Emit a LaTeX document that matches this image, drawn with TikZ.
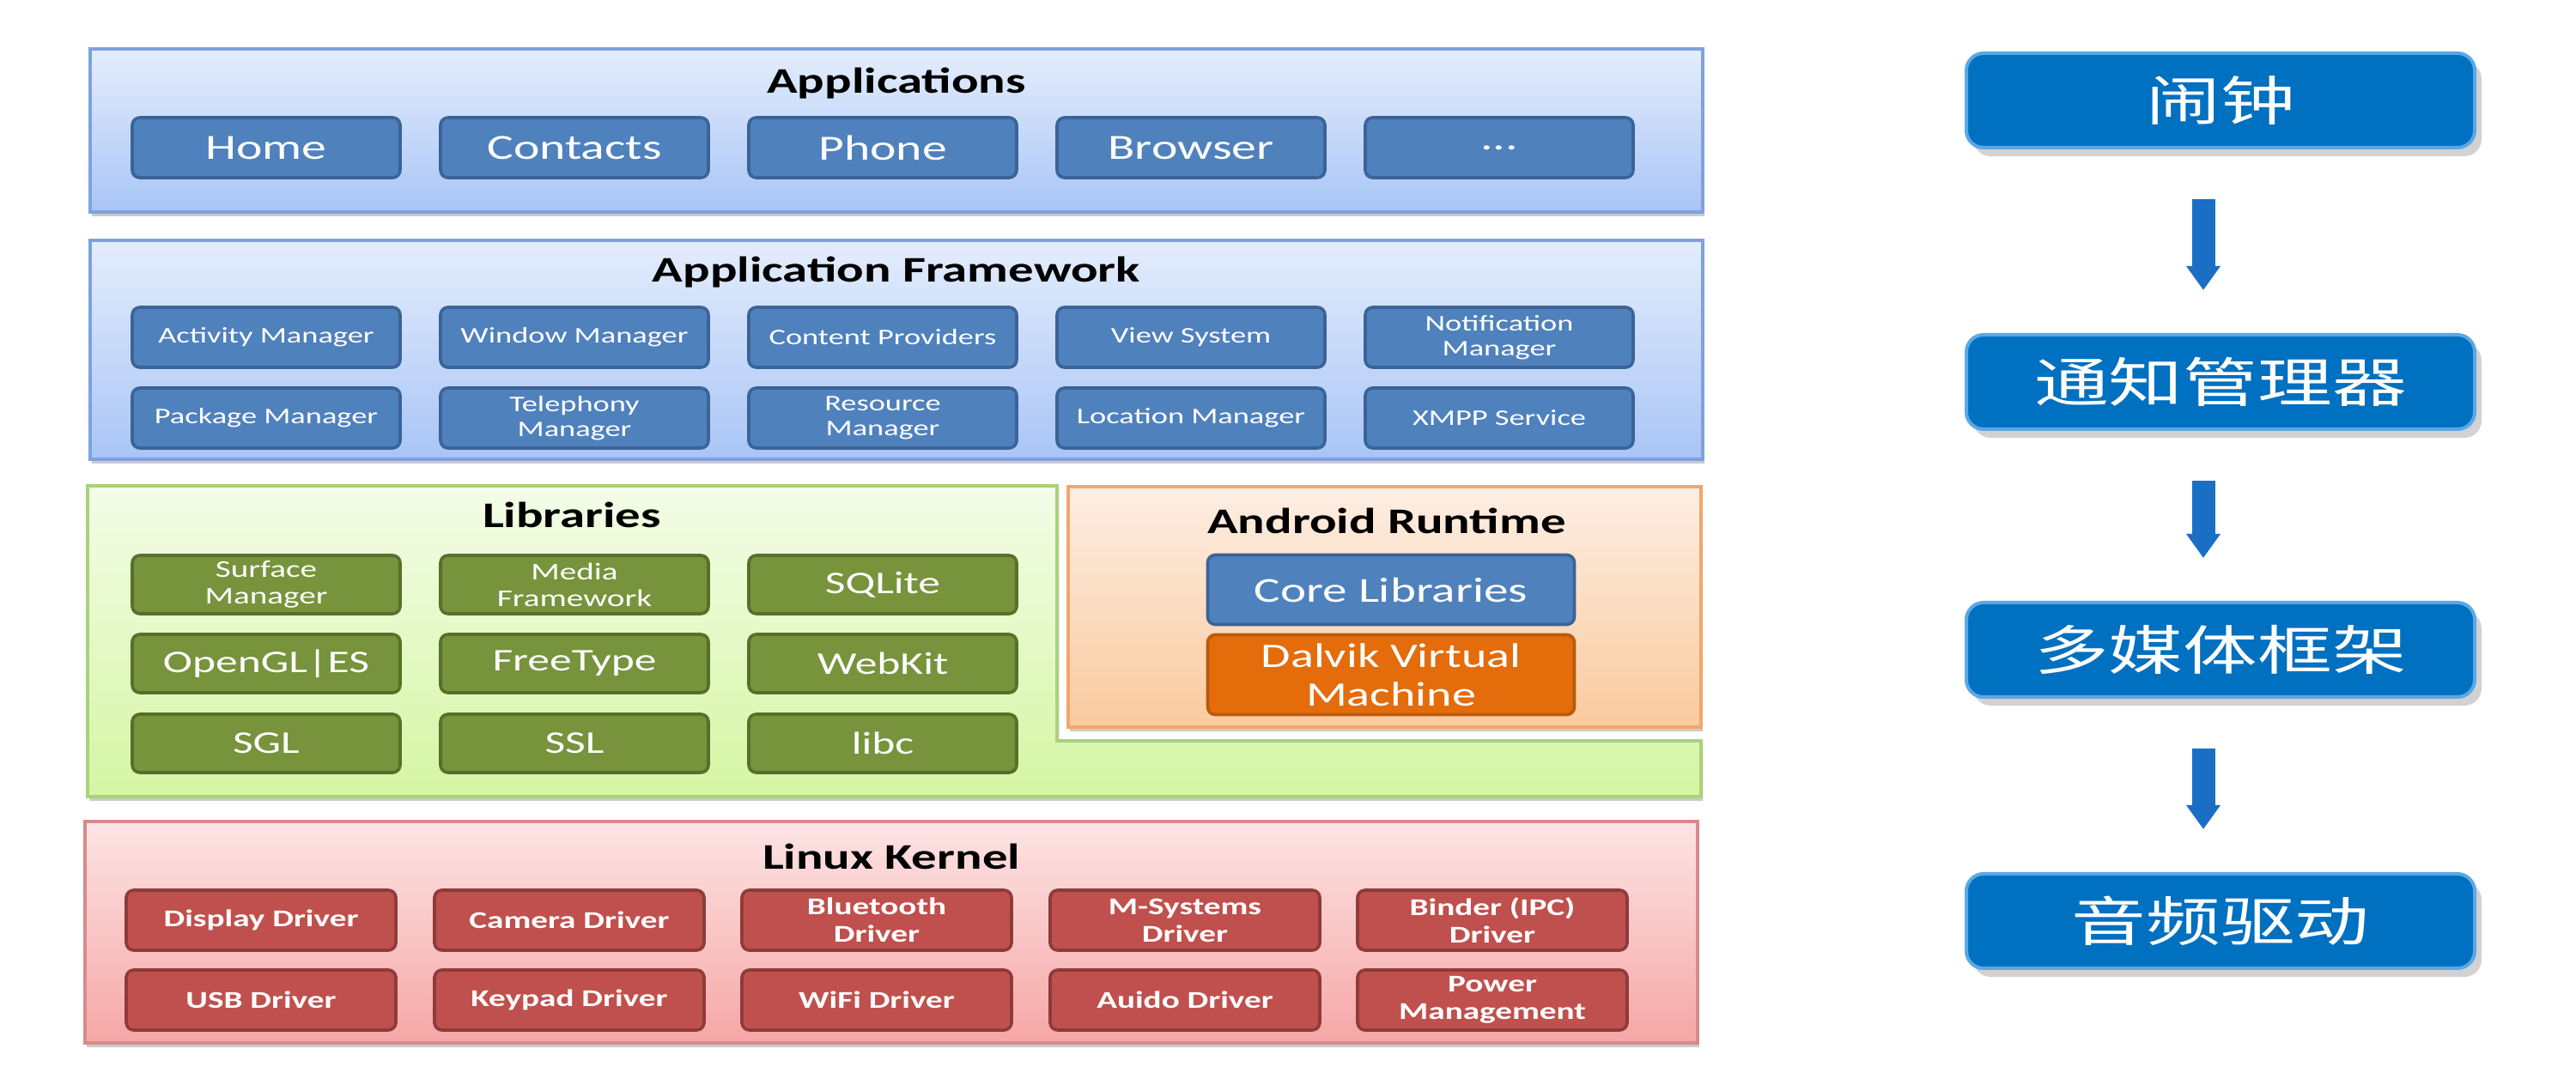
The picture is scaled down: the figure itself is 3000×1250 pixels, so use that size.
\documentclass[tikz,border=0pt]{standalone}
\usepackage{fontspec}
\setmainfont{Carlito}[FakeStretch=1.4]
\newfontfamily\cjk{Noto Sans CJK SC}[FakeStretch=1.4]
\usetikzlibrary{shadows,arrows.meta}
\definecolor{appTop}{HTML}{E4EDFC}
\definecolor{appBot}{HTML}{A9C5F6}
\definecolor{appBd}{HTML}{7EA2DC}
\definecolor{libTop}{HTML}{F3FDE8}
\definecolor{libBot}{HTML}{D5F5A3}
\definecolor{libBd}{HTML}{A9D27A}
\definecolor{rtTop}{HTML}{FDEEE3}
\definecolor{rtBot}{HTML}{FACA9E}
\definecolor{rtBd}{HTML}{F2A66A}
\definecolor{lkTop}{HTML}{FDE4E4}
\definecolor{lkBot}{HTML}{F6A6A6}
\definecolor{lkBd}{HTML}{D88A8A}
\definecolor{blueFill}{HTML}{4F81BD}
\definecolor{blueDraw}{HTML}{3B6397}
\definecolor{greenFill}{HTML}{77933C}
\definecolor{greenDraw}{HTML}{56702A}
\definecolor{orangeFill}{HTML}{E46C0A}
\definecolor{orangeDraw}{HTML}{B75A0C}
\definecolor{redFill}{HTML}{C0504D}
\definecolor{redDraw}{HTML}{8E3B39}
\definecolor{cnBlue}{HTML}{0070C0}
\definecolor{cnBd}{HTML}{5AA8E6}
\definecolor{cnArrow}{HTML}{1A6FC4}
\begin{document}
\begin{tikzpicture}[x=0.25pt,y=-0.25pt,
  layer/.style={draw=#1Bd, line width=0.8pt, top color=#1Top, bottom color=#1Bot,
    drop shadow={shadow xshift=0.6pt, shadow yshift=-1.2pt, opacity=0.35, fill=black!60}},
  title/.style={font=\bfseries\fontsize{10.5}{12}\selectfont, text=black, inner sep=0pt},
  item/.style={rounded corners=2.2pt, line width=0.9pt, minimum width=78pt, minimum height=17.5pt,
    inner sep=0pt, align=center, text=white},
  bluebox/.style={item, fill=blueFill, draw=blueDraw},
  greenbox/.style={item, fill=greenFill, draw=greenDraw, minimum height=17pt},
  redbox/.style={item, fill=redFill, draw=redDraw, minimum width=78.5pt,
    font=\bfseries\fontsize{7}{8}\selectfont},
  appf/.style={font=\fontsize{10.3}{12}\selectfont},
  fwf/.style={font=\fontsize{6.5}{7.3}\selectfont},
  libf/.style={font=\fontsize{9.2}{11}\selectfont},
  lib2f/.style={font=\fontsize{7}{7.8}\selectfont},
  cnbox/.style={rounded corners=5pt, fill=cnBlue, draw=cnBd, line width=1pt,
    minimum width=148pt, minimum height=27.5pt, inner sep=0pt, text=white,
    font=\cjk\fontsize{15.5}{18}\selectfont,
    drop shadow={shadow xshift=2pt, shadow yshift=-2.5pt, opacity=0.25, fill=black!70}},
  flow/.style={draw=cnArrow, line width=6.75pt, -{Triangle[length=7pt,width=9.5pt]},
    shorten <=14.5pt, shorten >=12.5pt}
]
\useasboundingbox (0,0) rectangle (3000,1250);

% ---------- Applications ----------
\path[layer=app] (105,57) rectangle (1983,247);
\node[title] (tapp) at (1044,97) {Applications};
\node[bluebox,appf] (home) at (310,172) {Home};
\node[bluebox,appf] (contacts) at (669,172) {Contacts};
\node[bluebox,appf] (phone) at (1028,172) {Phone};
\node[bluebox,appf] (browser) at (1387,172) {Browser};
\node[bluebox,appf] (more) at (1746,172) {...};

% ---------- Application Framework ----------
\path[layer=app] (105,280) rectangle (1983,535);
\node[title] (tfw) at (1044,317) {Application Framework};
\node[bluebox,fwf] (am) at (310,393) {Activity Manager};
\node[bluebox,fwf] (wm) at (669,393) {Window Manager};
\node[bluebox,fwf] (cp) at (1028,393) {Content Providers};
\node[bluebox,fwf] (vs) at (1387,393) {View System};
\node[bluebox,fwf] (nm) at (1746,393) {Notification\\Manager};
\node[bluebox,fwf] (pm) at (310,487) {Package Manager};
\node[bluebox,fwf] (tm) at (669,487) {Telephony\\Manager};
\node[bluebox,fwf] (rm) at (1028,487) {Resource\\Manager};
\node[bluebox,fwf] (lm) at (1387,487) {Location Manager};
\node[bluebox,fwf] (xmpp) at (1746,487) {XMPP Service};

% ---------- Libraries ----------
\path[layer=lib] (102,566) -- (1231,566) -- (1231,863) -- (1981,863) -- (1981,928) -- (102,928) -- cycle;
\node[title] (tlib) at (666,600) {Libraries};
\node[greenbox,lib2f] (sm) at (310,681) {Surface\\Manager};
\node[greenbox,lib2f] (mf) at (669,681) {Media\\Framework};
\node[greenbox,libf] (sql) at (1028,681) {SQLite};
\node[greenbox,libf] (gl) at (310,773) {OpenGL|ES};
\node[greenbox,libf] (ft) at (669,773) {FreeType};
\node[greenbox,libf] (wk) at (1028,773) {WebKit};
\node[greenbox,libf] (sgl) at (310,866) {SGL};
\node[greenbox,libf] (ssl) at (669,866) {SSL};
\node[greenbox,libf] (libc) at (1028,866) {libc};

% ---------- Android Runtime ----------
\path[layer=rt] (1244,567) rectangle (1981,847);
\node[title] (trt) at (1615,607) {Android Runtime};
\node[item, fill=blueFill, draw=blueDraw, minimum width=106.75pt, minimum height=20.25pt,
  font=\fontsize{10.2}{12}\selectfont] (core) at (1620,687) {Core Libraries};
\node[item, fill=orangeFill, draw=orangeDraw, minimum width=106.75pt, minimum height=23.25pt,
  font=\fontsize{10}{11.2}\selectfont] (dalvik) at (1620,786) {Dalvik Virtual\\Machine};

% ---------- Linux Kernel ----------
\path[layer=lk] (99,957) rectangle (1977,1215);
\node[title] (tlk) at (1038,998) {Linux Kernel};
\node[redbox] (dd) at (304,1072) {Display Driver};
\node[redbox] (cd) at (663,1072) {Camera Driver};
\node[redbox] (bd) at (1021,1072) {Bluetooth\\Driver};
\node[redbox] (msd) at (1380,1072) {M-Systems\\Driver};
\node[redbox] (bind) at (1738,1072) {Binder (IPC)\\Driver};
\node[redbox] (usb) at (304,1165) {USB Driver};
\node[redbox] (kd) at (663,1165) {Keypad Driver};
\node[redbox] (wifi) at (1021,1165) {WiFi Driver};
\node[redbox] (ad) at (1380,1165) {Auido Driver};
\node[redbox] (pw) at (1738,1165) {Power\\Management};

% ---------- Right flow ----------
\node[cnbox] (r1) at (2586,117) {闹钟};
\node[cnbox] (r2) at (2586,445) {通知管理器};
\node[cnbox] (r3) at (2586,757) {多媒体框架};
\node[cnbox] (r4) at (2586,1073) {音频驱动};
\draw[flow] ([xshift=-5pt]r1.south) -- ([xshift=-5pt]r2.north);
\draw[flow] ([xshift=-5pt]r2.south) -- ([xshift=-5pt]r3.north);
\draw[flow] ([xshift=-5pt]r3.south) -- ([xshift=-5pt]r4.north);
\end{tikzpicture}
\end{document}
